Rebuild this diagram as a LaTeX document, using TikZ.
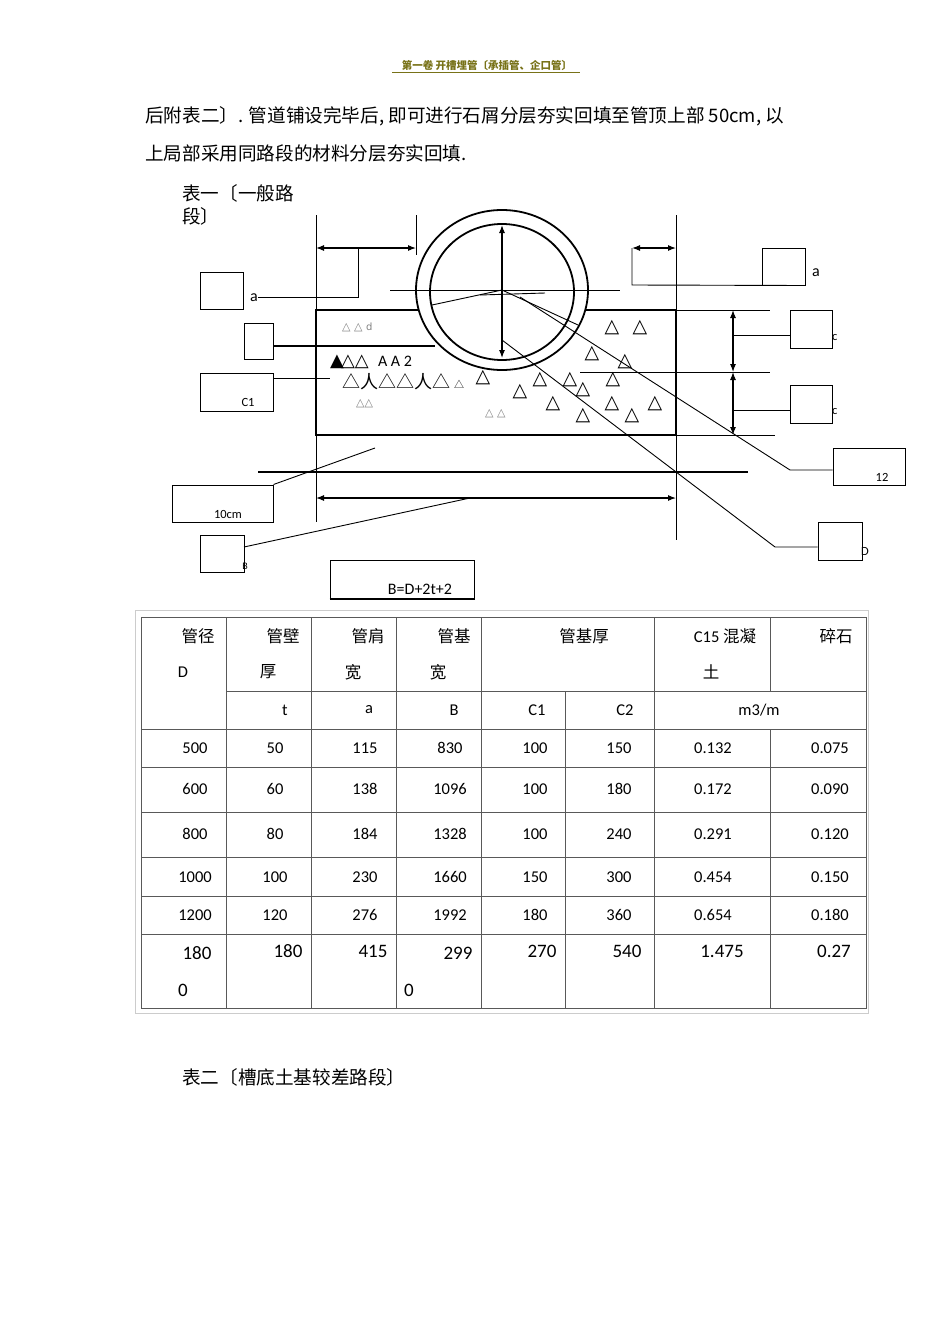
\documentclass[tikz,border=0pt]{standalone}
\usepackage{fontspec}
\setmainfont{Carlito}
\newfontfamily\cjk{Noto Sans CJK SC}
\newfontfamily\djv{DejaVu Sans}
\usetikzlibrary{arrows.meta}
\begin{document}
\begin{tikzpicture}[x=1pt,y=-1pt,
 lbl/.style={draw,line width=1pt,minimum width=0pt,inner sep=0pt},
 ln/.style={line width=0.9pt},
 dim/.style={line width=1.1pt,{Latex[length=8pt]}-{Latex[length=8pt]}},
 tx/.style={font=\fontsize{16}{18}\selectfont,inner sep=0pt},
 sm/.style={font=\fontsize{12.5}{13}\selectfont,inner sep=0pt},
 tc/.style={font=\fontsize{16.5}{18}\selectfont,inner sep=0pt},
 tri/.style={font=\djv\fontsize{19}{19}\selectfont,inner sep=0pt},
 tris/.style={font=\djv\fontsize{11}{11}\selectfont,inner sep=0pt,gray},
 par/.style={anchor=west,font=\cjk\fontsize{18.6}{21}\selectfont,inner sep=0pt}]
\useasboundingbox (0,0) rectangle (950,1344);
% header
\node[font=\cjk\fontsize{10.5}{11}\selectfont\bfseries,text=olive!80!black] (hdr) at (487,66) {第一卷\ 开槽埋管〔承插管、企口管〕};
\draw[olive!80!black,line width=0.6pt] (392,72) -- (580,72);
\node[par] (p1) at (145,116) {后附表二〕. 管道铺设完毕后, 即可进行石屑分层夯实回填至管顶上部 50cm, 以};
\node[par] (p2) at (145,153) {上局部采用同路段的材料分层夯实回填.};
\node[par] (t1a) at (182,193) {表一〔一般路};
\node[par] (t1b) at (182,216) {段〕};
% base rectangle
\draw[line width=2.2pt] (316,310) rectangle (676,435);
% pipe
\fill[white] (502,290) ellipse [x radius=86,y radius=80];
\draw[line width=1.8pt] (502,290) ellipse [x radius=86,y radius=80];
\draw[line width=1.8pt] (502,292) ellipse [x radius=72,y radius=68];
\draw[dim] (502,225) -- (502,358);
\draw[ln] (390,290) -- (620,290);
\draw[ln] (432,305) -- (502,290) -- (578,325);
\draw[ln] (480,295) -- (545,293);
% extension lines
\draw[ln] (316,215) -- (316,522);
\draw[ln] (416,215) -- (416,255);
\draw[ln] (676,215) -- (676,540);
\draw[dim] (316,248) -- (416,248);
\draw[dim] (632,248) -- (676,248);
% a boxes
\node[lbl,minimum width=43pt,minimum height=37pt] (ba) at (221.5,290.5) {};
\node[tx,anchor=west] (ta) at (250,298) {a};
\draw[ln] (258,297) -- (358,297) -- (358,248);
\node[lbl,minimum width=43pt,minimum height=37pt] (bb) at (783.5,266.5) {};
\node[tx,anchor=west] (tb) at (812,273) {a};
\draw[ln] (632,248) -- (632,285) -- (bb.south east);
% right dimension
\draw[ln] (676,310) -- (770,310);
\draw[ln] (580,372) -- (770,372);
\draw[ln] (676,435) -- (775,435);
\draw[dim] (733,310) -- (733,372);
\draw[dim] (733,372) -- (733,435);
\node[lbl,minimum width=42pt,minimum height=38pt] (bc1) at (811,329) {};
\node[lbl,minimum width=42pt,minimum height=38pt] (bc2) at (811,404) {};
\node[sm,anchor=west] at (832,338) {c};
\node[sm,anchor=west] at (832,412) {c};
\draw[ln] (733,335) -- (bc1.west|-0,335);
\draw[ln] (733,410) -- (bc2.west|-0,410);
% leader lines
\node[lbl,minimum width=72pt,minimum height=37pt] (b12) at (869,466.5) {};
\node[sm] at (882,477) {12};
\draw[ln] (520,297) -- (790,470) -- (b12.west|-0,470);
\node[lbl,minimum width=44pt,minimum height=38pt] (bD) at (840,541) {};
\node[sm] at (865,551) {D};
\draw[ln] (502,340) -- (775,547) -- (bD.west|-0,547);
% left boxes
\node[lbl,minimum width=29pt,minimum height=36pt] (bs) at (258.5,341) {};
\draw[line width=1.6pt] (bs.east|-0,346) -- (435,346);
\node[lbl,minimum width=73pt,minimum height=38pt] (bC1) at (236.5,392) {};
\node[sm] at (248,402) {C1};
\draw[ln] (273,378) -- (330,378);
% base line & bottom dim
\draw[line width=1.4pt] (258,472) -- (748,472);
\draw[dim] (316,498) -- (676,498);
\node[lbl,minimum width=101pt,minimum height=37pt] (b10) at (222.5,503.5) {};
\node[sm] at (228,514) {10cm};
\draw[ln] (b10.north east) -- (375,448);
\node[lbl,minimum width=44pt,minimum height=37pt] (bB) at (222,553.5) {};
\node[sm,font=\fontsize{10}{10}\selectfont] at (245,566) {B};
\draw[ln] (244,547) -- (470,498);
\node[lbl,minimum width=144pt,minimum height=38pt] (bF) at (402,579) {};
\draw[line width=2pt] (bF.south west) -- (bF.south east);
\node[tx] (tF) at (420,589) {B=D+2t+2};
% triangles and text inside
\node[tris,anchor=west] at (342,327) {△ △ \fontsize{10}{10}\selectfont d};
\node[anchor=west,font=\djv\fontsize{18}{18}\selectfont,inner sep=0pt] at (330,362) {▲\kern-3pt△△\ \fontsize{16}{16}\selectfont\rmfamily\ A A 2};
\node[anchor=west,font=\cjk\fontsize{18}{18}\selectfont,inner sep=0pt] at (342,382) {△人△△人△ \fontsize{10}{10}\selectfont △};
\node[tris,anchor=west] at (356,404) {△△};
\node[tris,anchor=west] at (485,414) {△ △};
\foreach \p in {(612,328),(640,328),(592,354),(625,362),(613,380),(540,380),(570,380),(520,392),(483,378),(553,404),(583,390),(612,404),(655,404),(583,416),(632,416)}
  \node[tri] at \p {△};
% table
\draw[gray!40,line width=1pt] (135,610) rectangle (868,1013);
\draw[line width=0.9pt,gray!70!black] (141,617) rectangle (866,1008);
\foreach \y in {729,767,812,857,896,934} \draw[line width=0.9pt,gray!70!black] (141,\y) -- (866,\y);
\draw[line width=0.9pt,gray!70!black] (226,691) -- (866,691);
\foreach \x in {226,311,396,481,654} \draw[line width=0.9pt,gray!70!black] (\x,617) -- (\x,1008);
\draw[line width=0.9pt,gray!70!black] (565,691) -- (565,1008);
\draw[line width=0.9pt,gray!70!black] (770,617) -- (770,691);
\draw[line width=0.9pt,gray!70!black] (770,729) -- (770,1008);
\begin{scope}[every node/.style={font=\cjk\fontsize{16.5}{18}\selectfont,inner sep=0pt}]
\node at (198,636) {管径};
\node at (283,636) {管壁};
\node at (368,636) {管肩};
\node at (454,636) {管基};
\node at (584,636) {管基厚};
\node at (725,636) {\rmfamily\fontsize{16.5}{18}\selectfont C15 \cjk 混凝};
\node at (836,636) {碎石};
\node at (268,672) {厚};
\node at (353,672) {宽};
\node at (438,672) {宽};
\node at (711,672) {土};
\end{scope}
\node[tc] at (183,672) {D};
\node[tc] at (285,710) {t};
\node[tc] at (369,710) {a};
\node[tc] at (454,710) {B};
\node[tc] at (537,710) {C1};
\node[tc] at (625,710) {C2};
\node[tc] at (759,710) {m3/m};
\foreach \yy/\a/\b/\c/\d/\e/\f/\g/\h in {748/500/50/115/830/100/150/0.132/0.075,789/600/60/138/1096/100/180/0.172/0.090,834/800/80/184/1328/100/240/0.291/0.120,877/1000/100/230/1660/150/300/0.454/0.150,915/1200/120/276/1992/180/360/0.654/0.180}{
 \node[tc] at (195,\yy) {\a};
 \node[tc] at (275,\yy) {\b};
 \node[tc] at (365,\yy) {\c};
 \node[tc] at (450,\yy) {\d};
 \node[tc] at (535,\yy) {\e};
 \node[tc] at (619,\yy) {\f};
 \node[tc] at (713,\yy) {\g};
 \node[tc] at (830,\yy) {\h};}
\begin{scope}[every node/.style={font=\fontsize{19}{21}\selectfont,inner sep=0pt}]
\node at (197,953) {180};
\node at (183,990) {0};
\node at (288,951) {180};
\node at (373,951) {415};
\node at (458,953) {299};
\node at (409,990) {0};
\node at (542,951) {270};
\node at (627,951) {540};
\node at (722,951) {1.475};
\node at (834,951) {0.27};
\end{scope}
\node[par] (t2) at (182,1077) {表二〔槽底土基较差路段〕};
\end{tikzpicture}
\end{document}
